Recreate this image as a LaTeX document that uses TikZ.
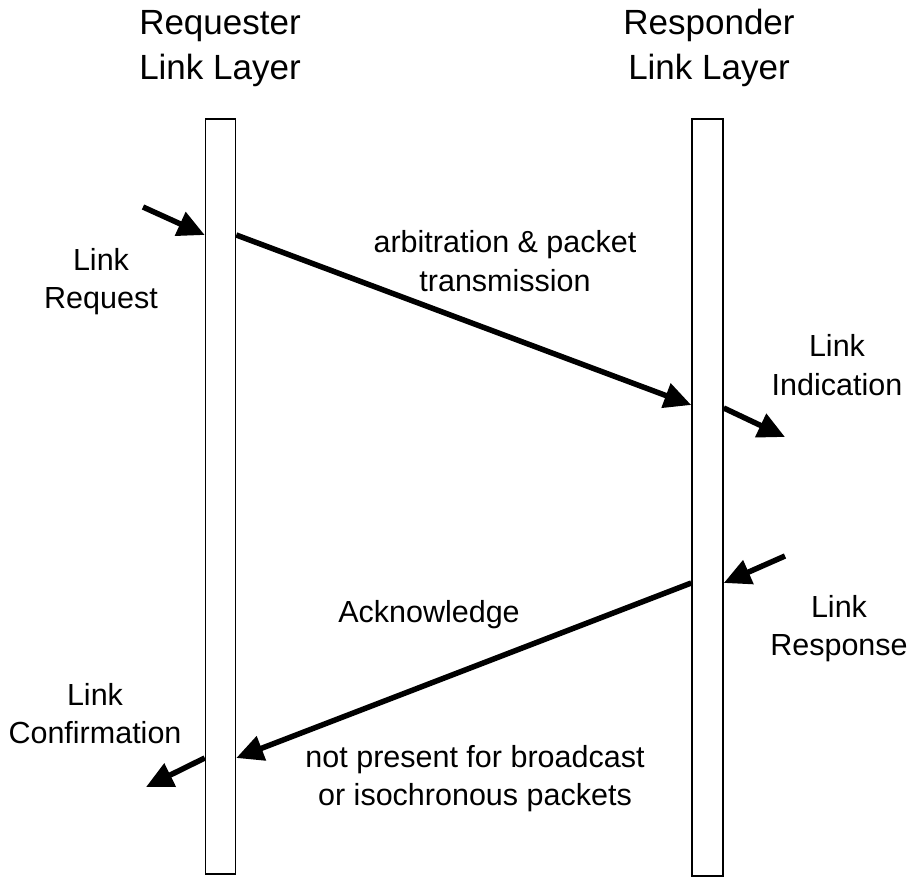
\documentclass[tikz,border=0pt]{standalone}
\usepackage{fontspec}
\setmainfont{Liberation Sans}
\usetikzlibrary{arrows.meta}
\begin{document}
\begin{tikzpicture}[x=1pt,y=-1pt,
  bar/.style={draw, line width=1.5pt, inner sep=0pt, fill=white},
  msg/.style={line width=5.5pt, -{Triangle[length=27pt,width=25pt]}},
  head/.style={font=\fontsize{35}{45}\selectfont, anchor=base, inner sep=0pt},
  lbl/.style={font=\fontsize{30.5}{38}\selectfont, anchor=base, inner sep=0pt}]
\useasboundingbox (0,0) rectangle (911,877);

% the two link-layer timelines
\node[bar, minimum width=30pt, minimum height=755pt] (reqbar) at (220.5,496.5) {};
\node[bar, minimum width=31pt, minimum height=757pt] (resbar) at (707.5,497.5) {};

% column headings
\node[head] (reqh1) at (220,35) {Requester};
\node[head] (reqh2) at (220,80) {Link Layer};
\node[head] (resh1) at (709,35) {Responder};
\node[head] (resh2) at (709,80) {Link Layer};

% free ends of the service-primitive arrows
\coordinate (reqsrc) at (143,207);
\coordinate (indtip) at (785,437);
\coordinate (rspsrc) at (785,556);
\coordinate (cnftip) at (146,787);

% request / indication
\draw[msg] (reqsrc) -- (reqbar.west |- 0,235);
\draw[msg] (reqbar.east |- 0,235) -- (resbar.west |- 0,405);
\draw[msg] (resbar.east |- 0,408) -- (indtip);

% response / acknowledge / confirmation
\draw[msg] (rspsrc) -- (resbar.east |- 0,583);
\draw[msg] (resbar.west |- 0,583) -- (reqbar.east |- 0,758);
\draw[msg] (reqbar.west |- 0,758) -- (cnftip);

% labels
\node[lbl] (arb1) at (505,253) {arbitration \& packet};
\node[lbl] (arb2) at (505,292) {transmission};
\node[lbl] (rq1) at (101,271) {Link};
\node[lbl] (rq2) at (101,309) {Request};
\node[lbl] (in1) at (837,357) {Link};
\node[lbl] (in2) at (837,396) {Indication};
\node[lbl] (rs1) at (839,617) {Link};
\node[lbl] (rs2) at (839,655) {Response};
\node[lbl] (ack) at (429,622) {Acknowledge};
\node[lbl] (cf1) at (95,705) {Link};
\node[lbl] (cf2) at (95,743) {Confirmation};
\node[lbl] (np1) at (475,767) {not present for broadcast};
\node[lbl] (np2) at (475,805) {or isochronous packets};
\end{tikzpicture}
\end{document}
